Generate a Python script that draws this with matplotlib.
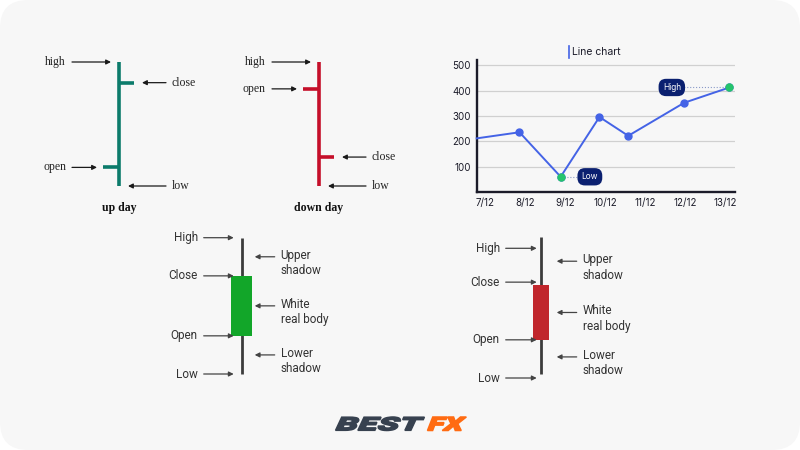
import matplotlib

matplotlib.use("Agg")
import matplotlib.pyplot as plt
from matplotlib.font_manager import FontProperties
from matplotlib.patches import FancyBboxPatch, PathPatch, Rectangle
from matplotlib.textpath import TextPath
from matplotlib.transforms import Affine2D

W, H = 800, 450

# OHLC bar diagrams (arbitrary price units)
up_day = {"open": 14.5, "high": 40, "low": 10, "close": 35}
down_day = {"open": 33.5, "high": 40, "low": 10, "close": 17}

# candlestick diagrams
green_candle = {"open": 28, "high": 100, "low": 0, "close": 72}
red_candle = {"open": 65, "high": 100, "low": 0, "close": 25}
candle_left_labels = ["High", "Close", "Open", "Low"]
candle_right_labels = ["Upper\nshadow", "White\nreal body", "Lower\nshadow"]

# line chart
dates = ["7/12", "8/12", "9/12", "10/12", "11/12", "12/12", "13/12"]
point_x = [-0.21, 0.86, 1.89, 2.86, 3.58, 4.98, 6.11]
prices = [212, 236, 61, 296, 222, 352, 412]
y_ticks = [100, 200, 300, 400, 500]

SERIF = "Liberation Serif"
SANS = "Roboto"

fig = plt.figure(figsize=(8, 4.5), dpi=100, facecolor="white")

# overlay in pixel coordinates for background, title and logo
bg = fig.add_axes([0, 0, 1, 1])
bg.set_xlim(0, W)
bg.set_ylim(H, 0)
bg.axis("off")
bg.add_patch(FancyBboxPatch((0, 0), W, H, boxstyle="round,pad=0,rounding_size=28",
                            fc="#f7f7f7", ec="none"))


def px_axes(x0, y0, x1, y1):
    return fig.add_axes([x0 / W, 1 - y1 / H, (x1 - x0) / W, (y1 - y0) / H])


def arrow(ax, y, tip, tail, color):
    ax.annotate("", xy=(tip, y), xytext=(tail, y),
                arrowprops=dict(arrowstyle="-|>", color=color, lw=0.9,
                                shrinkA=0, shrinkB=0, mutation_scale=7),
                annotation_clip=False)


def ohlc_diagram(x0, x1, bar_x, d, color, caption):
    ax = px_axes(x0, 62, x1, 186)
    ax.set_xlim(x0 - bar_x, x1 - bar_x)
    ax.set_ylim(d["low"], d["high"])
    ax.axis("off")
    kw = dict(color=color, lw=2.6, solid_capstyle="butt", clip_on=False)
    ax.plot([0, 0], [d["low"], d["high"]], **kw)
    ax.plot([-16, 0], [d["open"], d["open"]], **kw)
    ax.plot([0, 15], [d["close"], d["close"]], **kw)

    font = dict(family=SERIF, fontsize=8.5, color="#222222", va="center")
    ac = "#1a1a1a"
    # left side: high, open
    arrow(ax, d["high"], -8, -47, ac)
    ax.text(-53, d["high"], "high", ha="right", **font)
    arrow(ax, d["open"], -22, -47, ac)
    ax.text(-53, d["open"], "open", ha="right", **font)
    # right side: close, low
    arrow(ax, d["close"], 23, 47, ac)
    ax.text(53, d["close"], "close", ha="left", **font)
    arrow(ax, d["low"], 9, 47, ac)
    ax.text(53, d["low"], "low", ha="left", **font)

    ax.annotate(caption, xy=(0, d["low"]), xytext=(0, -22), textcoords="offset pixels",
                ha="center", va="center", family=SERIF, fontsize=8.5,
                fontweight="bold", color="#111111", annotation_clip=False)


ohlc_diagram(30, 220, 119, up_day, "#0c7b6b", "up day")
ohlc_diagram(230, 420, 319, down_day, "#c50f2a", "down day")


def candle_diagram(x0, x1, wick_x, top, bottom, d, body_w, color, left, right, shifts):
    ax = px_axes(x0, top, x1, bottom)
    ax.set_xlim(x0 - wick_x, x1 - wick_x)
    ax.set_ylim(d["low"], d["high"])
    ax.axis("off")
    ax.plot([0, 0], [d["low"], d["high"]], color="#3c3c3c", lw=2.0,
            solid_capstyle="butt", clip_on=False, zorder=1)
    lo, hi = sorted([d["open"], d["close"]])
    ax.add_patch(Rectangle((-body_w / 2, lo), body_w, hi - lo, fc=color, ec="none", zorder=2))

    font = dict(family=SANS, fontsize=8.5, color="#333333")
    ac = "#444444"
    per_px = (d["high"] - d["low"]) / (bottom - top)
    lt, ltail, ltip = left
    levels = [d["high"], hi, lo, d["low"]]
    # left label rows, optionally nudged (pixels, downwards) like in the source
    for lab, yv, sh in zip(candle_left_labels, levels, shifts):
        yl = yv - sh * per_px
        arrow(ax, yl, ltip, ltail, ac)
        ax.text(lt, yl, lab, ha="right", va="center", **font)

    rt, rtail, rtip = right
    mids = [(d["high"] + hi) / 2, (hi + lo) / 2, (lo + d["low"]) / 2]
    for lab, yv in zip(candle_right_labels, mids):
        arrow(ax, yv, rtip, rtail, ac)
        ax.annotate(lab, xy=(rt, yv), xytext=(0, 8), textcoords="offset pixels",
                    ha="left", va="top", linespacing=1.25, annotation_clip=False, **font)


candle_diagram(150, 340, 241.7, 237.7, 374, green_candle, 21, "#12a629",
               (-44, -38, -8), (39, 33, 13), [0, 0, 0, 0])
candle_diagram(450, 640, 540.7, 237.3, 374, red_candle, 16, "#c0262c",
               (-41, -35, -4), (42, 36, 16), [11, -3, 0, 4])

# line chart
lc = px_axes(476.7, 60, 735, 192.3)
lc.set_facecolor("none")
lc.set_xlim(-0.21, 6.25)
lc.set_ylim(0, 520)
for s in ["top", "right"]:
    lc.spines[s].set_visible(False)
for s in ["left", "bottom"]:
    lc.spines[s].set_color("#1b1b29")
    lc.spines[s].set_linewidth(1.7)
for yv in y_ticks:
    lc.axhline(yv, color="#d0d0d0", lw=0.9, zorder=0)
lc.set_yticks(y_ticks)
lc.set_xticks(range(len(dates)))
lc.set_xticklabels(dates)
lc.tick_params(length=0, labelsize=7, colors="#1b1b29", pad=4)
for t in lc.get_xticklabels() + lc.get_yticklabels():
    t.set_family("Inter")

blue = "#4463e6"
green = "#25c46c"
lc.plot(point_x, prices, color=blue, lw=1.4, zorder=3, clip_on=False)
lc.plot(point_x[1:], prices[1:], "o", color=blue, ms=5, zorder=4, clip_on=False)

i_low = prices.index(min(prices))
i_high = prices.index(max(prices))
for i in (i_low, i_high):
    lc.plot(point_x[i], prices[i], "o", color=green, ms=5, zorder=5, clip_on=False)

navy = "#0b2070"
box = dict(boxstyle="round,pad=0.5,rounding_size=0.9", fc=navy, ec="none")
low_x = point_x[i_low] + 0.73
high_x = point_x[i_high] - 1.44
lc.plot([point_x[i_low], low_x], [prices[i_low]] * 2, ls=":", color="#8a9ac8", lw=0.8, zorder=2)
lc.plot([high_x, point_x[i_high]], [prices[i_high]] * 2, ls=":", color="#8a9ac8", lw=0.8, zorder=2)
lc.text(low_x, prices[i_low], "Low", ha="center", va="center", color="white",
        fontsize=6, family="Inter", bbox=box, zorder=6)
lc.text(high_x, prices[i_high], "High", ha="center", va="center", color="white",
        fontsize=6, family="Inter", bbox=box, zorder=6)

bg.plot([569, 569], [46, 57.5], color=blue, lw=1.2)
bg.text(571.5, 52, "Line chart", ha="left", va="center", fontsize=7.5,
        family="Inter", color="#1b1b29")

# logo: heavy, slanted, slightly stretched lettering
logo_font = FontProperties(family="Roboto", weight="black")


def logo_text(s, x0, x1, top, base, color):
    tp = TextPath((0, 0), s, size=10, prop=logo_font)
    bb = tp.get_extents()
    tr = (Affine2D().translate(-bb.x0, -bb.y0).skew_deg(14, 0)
          .scale((x1 - x0) / (bb.width + bb.height * 0.25), -(base - top) / bb.height)
          .translate(x0, base))
    bg.add_patch(PathPatch(tr.transform_path(tp), fc=color, ec=color, lw=1.1,
                           joinstyle="miter"))


logo_text("BEST", 335.5, 424.5, 417, 430.5, "#37414f")
logo_text("FX", 427.5, 466.5, 417, 430.5, "#ff6b12")

fig.savefig("out.png", dpi=100, facecolor="white")
